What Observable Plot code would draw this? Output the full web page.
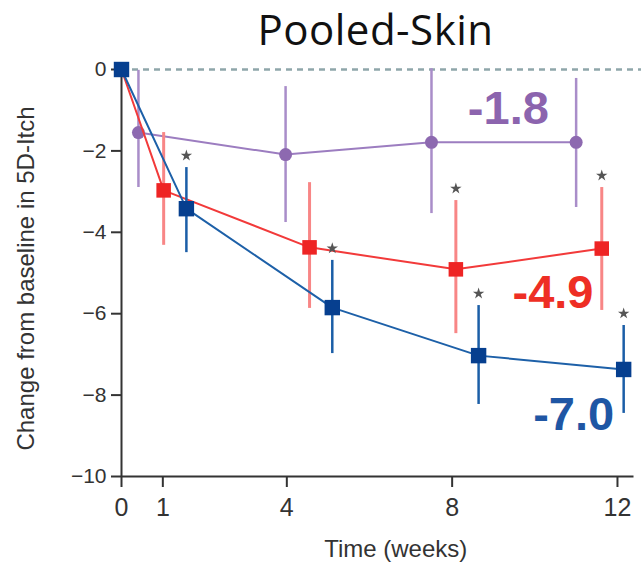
<!DOCTYPE html>
<html>
<head>
<meta charset="utf-8">
<script src="https://cdn.jsdelivr.net/npm/d3@7"></script>
<script src="https://cdn.jsdelivr.net/npm/@observablehq/plot@0.6"></script>
<style>
  html, body { margin: 0; padding: 0; background: #fff; }
  #wrap { width: 641px; height: 567px; position: relative; overflow: hidden; }
  #title { height: 60px; line-height: normal; padding-left: 110px; width: 531px; text-align: center;
           font-family: "Open Sans", "Noto Sans", sans-serif; font-size: 42px; color: #111; letter-spacing: 0.5px; }
</style>
</head>
<body>
<div id="wrap">
  <div id="title">Pooled-Skin</div>
  <div id="chart"></div>
</div>
<script>
// ---- data ----
const xTicks = [0, 1, 4, 8, 12];
const yTicks = [0, -2, -4, -6, -8, -10];

const purpleWeeks = [0.41, 3.97, 7.5, 11.0];
const purpleMean  = [-1.55, -2.09, -1.79, -1.79];
const purpleHi    = [-0.02, -0.42, 0.02, -0.22];
const purpleLo    = [-2.90, -3.76, -3.54, -3.39];

const redWeeks = [0, 1.02, 4.55, 8.09, 11.62];
const redMean  = [0, -2.97, -4.37, -4.91, -4.40];
const redHi    = [null, -1.55, -2.78, -3.22, -2.90];
const redLo    = [null, -4.32, -5.87, -6.49, -5.92];
const redStar  = [false, false, false, true, true];

const blueWeeks = [0, 1.57, 5.10, 8.64, 12.15];
const blueMean  = [0, -3.42, -5.85, -7.03, -7.37];
const blueHi    = [null, -2.41, -4.69, -5.80, -6.29];
const blueLo    = [null, -4.50, -6.98, -8.23, -8.45];
const blueStar  = [false, true, true, true, true];

const endLabels = ["-1.8", "-4.9", "-7.0"];
const endLabelWeek = [9.36, 10.44, 10.94];
const endLabelValue = [-0.97, -5.50, -8.49];

const yLabel = "Change from baseline in 5D-Itch";
const xLabel = "Time (weeks)";

// ---- build tables ----
const mk = (w, m, hi, lo, st) => w.map((d, i) => ({week: d, mean: m[i], hi: hi[i], lo: lo[i], star: st ? st[i] : false}));
const purple = mk(purpleWeeks, purpleMean, purpleHi, purpleLo);
const red = mk(redWeeks, redMean, redHi, redLo, redStar);
const blue = mk(blueWeeks, blueMean, blueHi, blueLo, blueStar);
const bars = arr => arr.filter(d => d.hi != null);
const stars = [...red, ...blue].filter(d => d.star);
const labels = endLabels.map((t, i) => ({text: t, week: endLabelWeek[i], value: endLabelValue[i], k: i}));

const C = {
  purpleLine: "#9c7dc0", purpleBar: "#a98dc9", purpleDot: "#8d69b0",
  redLine: "#f23a3a", redBar: "#f88686", redDot: "#ee2424",
  blueLine: "#1d60a8", blueBar: "#1b5ea7", blueDot: "#063f8f"
};
const labelColors = ["#8c64ae", "#ee2e24", "#1f56a4"];

const chart = Plot.plot({
  width: 641,
  height: 507,
  marginTop: 9,
  marginBottom: 91,
  marginLeft: 121,
  marginRight: 7.5,
  style: {fontFamily: "'Liberation Sans', Arial, sans-serif", fontSize: "19px", color: "#333", background: "#fff", overflow: "visible"},
  x: {domain: [0, 12.4]},
  y: {domain: [-10, 0]},
  marks: [
    Plot.ruleY([0], {x1: 0, x2: 12.6, stroke: "#8fa6aa", strokeWidth: 2.5, strokeDasharray: "6,5"}),
    Plot.ruleX([0], {y1: -10, y2: 0, stroke: "#333", strokeWidth: 2}),
    Plot.ruleY([-10], {x1: 0, x2: 12.4, stroke: "#333", strokeWidth: 2}),
    Plot.axisY({ticks: yTicks, tickSize: 10, tickPadding: 5, label: null, stroke: "#333", strokeWidth: 2, fontSize: 21, fill: "#333"}),
    Plot.axisX({ticks: xTicks, tickSize: 11, tickPadding: 11, label: null, stroke: "#333", strokeWidth: 2, fontSize: 25, fill: "#333"}),
    // purple
    Plot.ruleX(bars(purple), {x: "week", y1: "lo", y2: "hi", stroke: C.purpleBar, strokeWidth: 2.5}),
    Plot.line(purple, {x: "week", y: "mean", stroke: C.purpleLine, strokeWidth: 2}),
    Plot.dot(purple, {x: "week", y: "mean", r: 6.5, fill: C.purpleDot, stroke: "none"}),
    // red
    Plot.ruleX(bars(red), {x: "week", y1: "lo", y2: "hi", stroke: C.redBar, strokeWidth: 3}),
    Plot.line(red, {x: "week", y: "mean", stroke: C.redLine, strokeWidth: 2}),
    // blue
    Plot.ruleX(bars(blue), {x: "week", y1: "lo", y2: "hi", stroke: C.blueBar, strokeWidth: 2.5}),
    Plot.line(blue, {x: "week", y: "mean", stroke: C.blueLine, strokeWidth: 2}),
    Plot.dot(red, {x: "week", y: "mean", symbol: "square", r: 8.2, fill: C.redDot, stroke: "none"}),
    Plot.dot(blue, {x: "week", y: "mean", symbol: "square", r: 8.7, fill: C.blueDot, stroke: "none"}),
    // significance stars
    Plot.dot(stars, {x: "week", y: "hi", dy: -12, symbol: "star", r: 3.6, fill: "#555", stroke: "none"}),
    // end labels
    Plot.text(labels, {x: "week", y: "value", text: "text", fill: d => labelColors[d.k], fontSize: 47, fontWeight: "bold", fontFamily: "'Liberation Sans', Arial, sans-serif", textAnchor: "middle", lineAnchor: "middle"}),
    // axis titles
    Plot.text([yLabel], {frameAnchor: "left", dx: -95, dy: 5.5, rotate: -90, fontSize: 24, fill: "#333", textAnchor: "middle", lineAnchor: "middle"}),
    Plot.text([xLabel], {frameAnchor: "bottom", dx: 18, dy: 73, fontSize: 24, fill: "#333", textAnchor: "middle", lineAnchor: "middle"})
  ]
});
document.getElementById("chart").appendChild(chart);
</script>
</body>
</html>
